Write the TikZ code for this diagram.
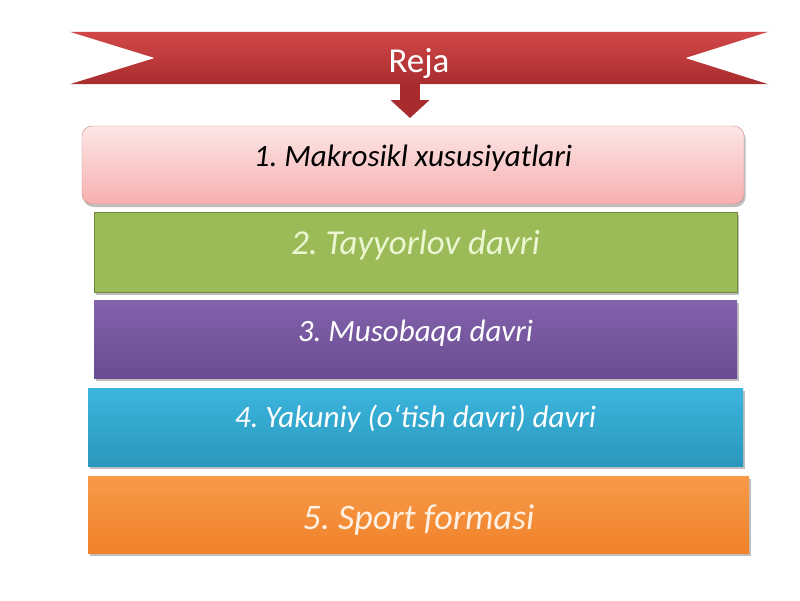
\documentclass[tikz,border=0pt]{standalone}
\usepackage{fontspec}
\setmainfont{Carlito}
\usetikzlibrary{arrows.meta,calc,shadows,backgrounds}

\definecolor{rejatop}{HTML}{D24848}
\definecolor{rejabot}{HTML}{A82C2E}
\definecolor{pinktop}{HTML}{FDE6E6}
\definecolor{pinkbot}{HTML}{F7AFAF}
\definecolor{pinkline}{HTML}{C88C8C}
\definecolor{greenbox}{HTML}{9BBB59}
\definecolor{greenline}{HTML}{71893F}
\definecolor{greentext}{HTML}{ECF7D2}
\definecolor{purpletop}{HTML}{8263AC}
\definecolor{purplebot}{HTML}{6A4C92}
\definecolor{cyantop}{HTML}{3CB5DE}
\definecolor{cyanbot}{HTML}{2A98BC}
\definecolor{orangetop}{HTML}{F89A48}
\definecolor{orangebot}{HTML}{F0822A}

\begin{document}
\frenchspacing
\begin{tikzpicture}[
    x=1pt,
    y=-1pt,
    stage/.style={minimum width=#1, minimum height=78pt, inner sep=0pt, text height=0.7em,
      drop shadow={shadow xshift=1.5pt, shadow yshift=-3pt, opacity=0.25, fill=black}},
    txt/.style={font=\fontsize{#1}{#1}\selectfont\itshape},
    up/.style={text depth=#1},
    banner/.style={minimum width=698pt, minimum height=52pt, inner sep=0pt, text=white,
      text height=28pt, text depth=0pt, font=\fontsize{35}{36}\selectfont},
    downarrow/.style={line width=20pt, rejabot, -{Triangle[width=38pt, length=18pt]}}
  ]
    \useasboundingbox (0,0) rectangle (800,600);

    % banner
    \node[banner] (reja) at (419,58) {Reja};
    \begin{pgfonlayer}{background}
      \shade[top color=rejatop, bottom color=rejabot]
        (reja.north west) -- (reja.north east) -- ([xshift=-83pt]reja.east)
        -- (reja.south east) -- (reja.south west) -- ([xshift=85pt]reja.west) -- cycle;
    \end{pgfonlayer}

    % stages
    \node[stage=662pt, rounded corners=10pt, draw=pinkline, top color=pinktop, bottom color=pinkbot,
      txt=31, up=5pt, text=black] (s1) at (413,165) {1. Makrosikl xususiyatlari};
    \node[stage=643pt, minimum height=80pt, draw=greenline, fill=greenbox,
      txt=35, up=2pt, text=greentext] (s2) at (415.5,252) {2. Tayyorlov davri};
    \node[stage=643pt, top color=purpletop, bottom color=purplebot,
      txt=31, up=3pt, text=white] (s3) at (415.5,339) {3. Musobaqa davri};
    \node[stage=655pt, top color=cyantop, bottom color=cyanbot,
      txt=31, up=6pt, text=white] (s4) at (415.5,427) {4. Yakuniy (o‘tish davri) davri};
    \node[stage=661pt, minimum height=77pt, top color=orangetop, bottom color=orangebot,
      txt=36, text height=30pt, up=0pt, text=white!85!orangetop] (s5) at (418.5,514.5) {5. Sport formasi};

    % arrow
    \coordinate (tip) at (410,118);
    \draw[downarrow] (reja.south -| tip) -- (tip);
  \end{tikzpicture}
\end{document}
